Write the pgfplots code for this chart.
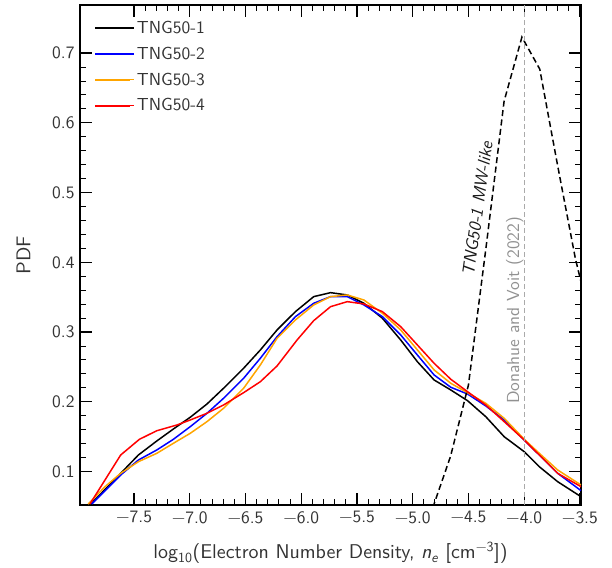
\documentclass[border=0pt]{standalone}
\usepackage{fontspec}
\setmainfont{lmsans10-regular}[
  Extension=.otf,
  ItalicFont=lmsans10-oblique,
  BoldFont=lmsans10-bold,
  BoldItalicFont=lmsans10-boldoblique]
\usepackage{pgfplots}
\pgfplotsset{compat=1.18}

\definecolor{txtgray}{HTML}{333333}
\definecolor{mporange}{RGB}{255,165,0}
\definecolor{mpred}{RGB}{255,0,0}
\definecolor{refgray}{HTML}{AAAAAA}

% PDF of log10(n_e) for the four resolution levels
\pgfplotstableread{
x y
-7.896 0.052
-7.620 0.0974
-7.461 0.1237
-7.296 0.1438
-7.147 0.1610
-6.996 0.1778
-6.846 0.1968
-6.697 0.2194
-6.517 0.2481
-6.367 0.2743
-6.217 0.3030
-6.052 0.3293
-5.888 0.3508
-5.737 0.3565
-5.587 0.3532
-5.438 0.3413
-5.272 0.3198
-5.108 0.2887
-4.958 0.2575
-4.808 0.2313
-4.658 0.2169
-4.508 0.2016
-4.344 0.1786
-4.179 0.1499
-3.999 0.1284
-3.864 0.1069
-3.699 0.0854
-3.489 0.0638
}\tngone

\pgfplotstableread{
x y
-7.880 0.0534
-7.620 0.0950
-7.461 0.1165
-7.296 0.1309
-7.147 0.1462
-6.996 0.1643
-6.846 0.1835
-6.697 0.2050
-6.517 0.2337
-6.367 0.2624
-6.217 0.2934
-6.052 0.3221
-5.888 0.3413
-5.737 0.3508
-5.587 0.3508
-5.438 0.3389
-5.272 0.3221
-5.108 0.2959
-4.958 0.2671
-4.808 0.2385
-4.658 0.2208
-4.508 0.2112
-4.344 0.1940
-4.179 0.1739
-3.999 0.1452
-3.864 0.1237
-3.699 0.0974
-3.489 0.0725
}\tngtwo

\pgfplotstableread{
x y
-7.911 0.0534
-7.761 0.0782
-7.620 0.0974
-7.461 0.1141
-7.296 0.1261
-7.147 0.1405
-6.996 0.1548
-6.846 0.1715
-6.697 0.1907
-6.517 0.2194
-6.367 0.2528
-6.217 0.2911
-6.052 0.3174
-5.888 0.3389
-5.737 0.3508
-5.587 0.3532
-5.438 0.3460
-5.272 0.3270
-5.108 0.3031
-4.958 0.2744
-4.808 0.2457
-4.658 0.2265
-4.508 0.2130
-4.344 0.1978
-4.179 0.1763
-3.999 0.1462
-3.864 0.1261
-3.699 0.1022
-3.489 0.0806
}\tngthree

\pgfplotstableread{
x y
-7.896 0.0534
-7.620 0.1237
-7.452 0.1462
-7.296 0.1585
-7.116 0.1667
-6.996 0.1739
-6.846 0.1835
-6.697 0.1954
-6.517 0.2131
-6.367 0.2288
-6.217 0.2514
-6.037 0.2887
-5.888 0.3164
-5.737 0.3364
-5.587 0.3436
-5.438 0.3403
-5.272 0.3293
-5.108 0.3078
-4.958 0.2815
-4.808 0.2552
-4.658 0.2323
-4.508 0.2145
-4.344 0.1954
-4.179 0.1715
-3.999 0.1452
-3.864 0.1237
-3.699 0.0974
-3.489 0.0782
}\tngfour

% Milky Way-like subsample of TNG50-1
\pgfplotstableread{
x y
-4.98 0.000
-4.82 0.048
-4.66 0.122
-4.50 0.224
-4.34 0.424
-4.18 0.631
-4.02 0.723
-3.86 0.677
-3.70 0.539
-3.54 0.405
-3.38 0.300
}\mwlike

\begin{document}
\begin{tikzpicture}
\begin{axis}[
  at={(0,0)}, anchor=south west,
  scale only axis, width=501bp, height=500bp,
  xmin=-7.985, xmax=-3.49, ymin=0.052, ymax=0.769,
  axis line style={line width=1.4pt},
  tick align=inside,
  xtick pos=both, ytick pos=both,
  major tick length=12bp, minor tick length=6bp,
  major tick style={line width=1.3pt, black},
  minor tick style={line width=1.0pt, black},
  minor x tick num=4, minor y tick num=4,
  xtick={-7.5,-7.0,-6.5,-6.0,-5.5,-5.0,-4.5,-4.0,-3.5},
  xticklabels={−7.5,−7.0,−6.5,−6.0,−5.5,−5.0,−4.5,−4.0,−3.5},
  ytick={0.1,0.2,0.3,0.4,0.5,0.6,0.7},
  yticklabels={0.1,0.2,0.3,0.4,0.5,0.6,0.7},
  tick label style={font=\fontsize{17.5}{21}\selectfont, text=txtgray},
  xticklabel style={yshift=-3bp},
  yticklabel style={xshift=-2bp},
  xlabel={log\textsubscript{10}(Electron Number Density, \textit{n}\textsubscript{\textit{e}} [cm\textsuperscript{−3}])},
  ylabel={PDF},
  every axis x label/.style={at={(axis description cs:0.5,-0.096)}, anchor=center},
  every axis y label/.style={at={(axis description cs:-0.113,0.5)}, anchor=center, rotate=90},
  label style={font=\fontsize{20}{24}\selectfont, text=txtgray},
  legend style={draw=none, fill=none, at={(0.028,0.972)}, anchor=north west,
    inner sep=0pt, font=\fontsize{17.5}{21}\selectfont, text=txtgray,
    row sep=8bp, nodes={inner sep=2bp}},
  legend cell align=left,
  legend image code/.code={
    \draw[#1, line width=2bp] (0bp,0bp) -- (35bp,0bp);
    \path (0bp,0bp) -- (39bp,0bp);},
  every axis plot/.append style={line width=1.5bp},
]
\addplot[color=black] table {\tngone};
\addlegendentry{TNG50-1}
\addplot[color=blue] table {\tngtwo};
\addlegendentry{TNG50-2}
\addplot[color=mporange] table {\tngthree};
\addlegendentry{TNG50-3}
\addplot[color=mpred] table {\tngfour};
\addlegendentry{TNG50-4}

\addplot[black, dash pattern=on 6bp off 3.5bp, forget plot] table {\mwlike};
\addplot[refgray, dash pattern=on 5bp off 3bp, line width=1.2bp, forget plot]
  coordinates {(-4.0,0.052) (-4.0,0.769)};

\node[rotate=90, anchor=south, inner sep=0.5bp, text=refgray!85!black,
  font=\fontsize{17.5}{21}\selectfont] at (axis cs:-4.0,0.331) {Donahue and Voit (2022)};
\node[rotate=82, text=black!90, font=\fontsize{17.5}{21}\selectfont\itshape]
  at (axis cs:-4.42,0.4766) {TNG50-1 MW-like};
\end{axis}
\pgfresetboundingbox
\path (-80bp,-63bp) rectangle (532bp,505bp);
\end{tikzpicture}
\end{document}
